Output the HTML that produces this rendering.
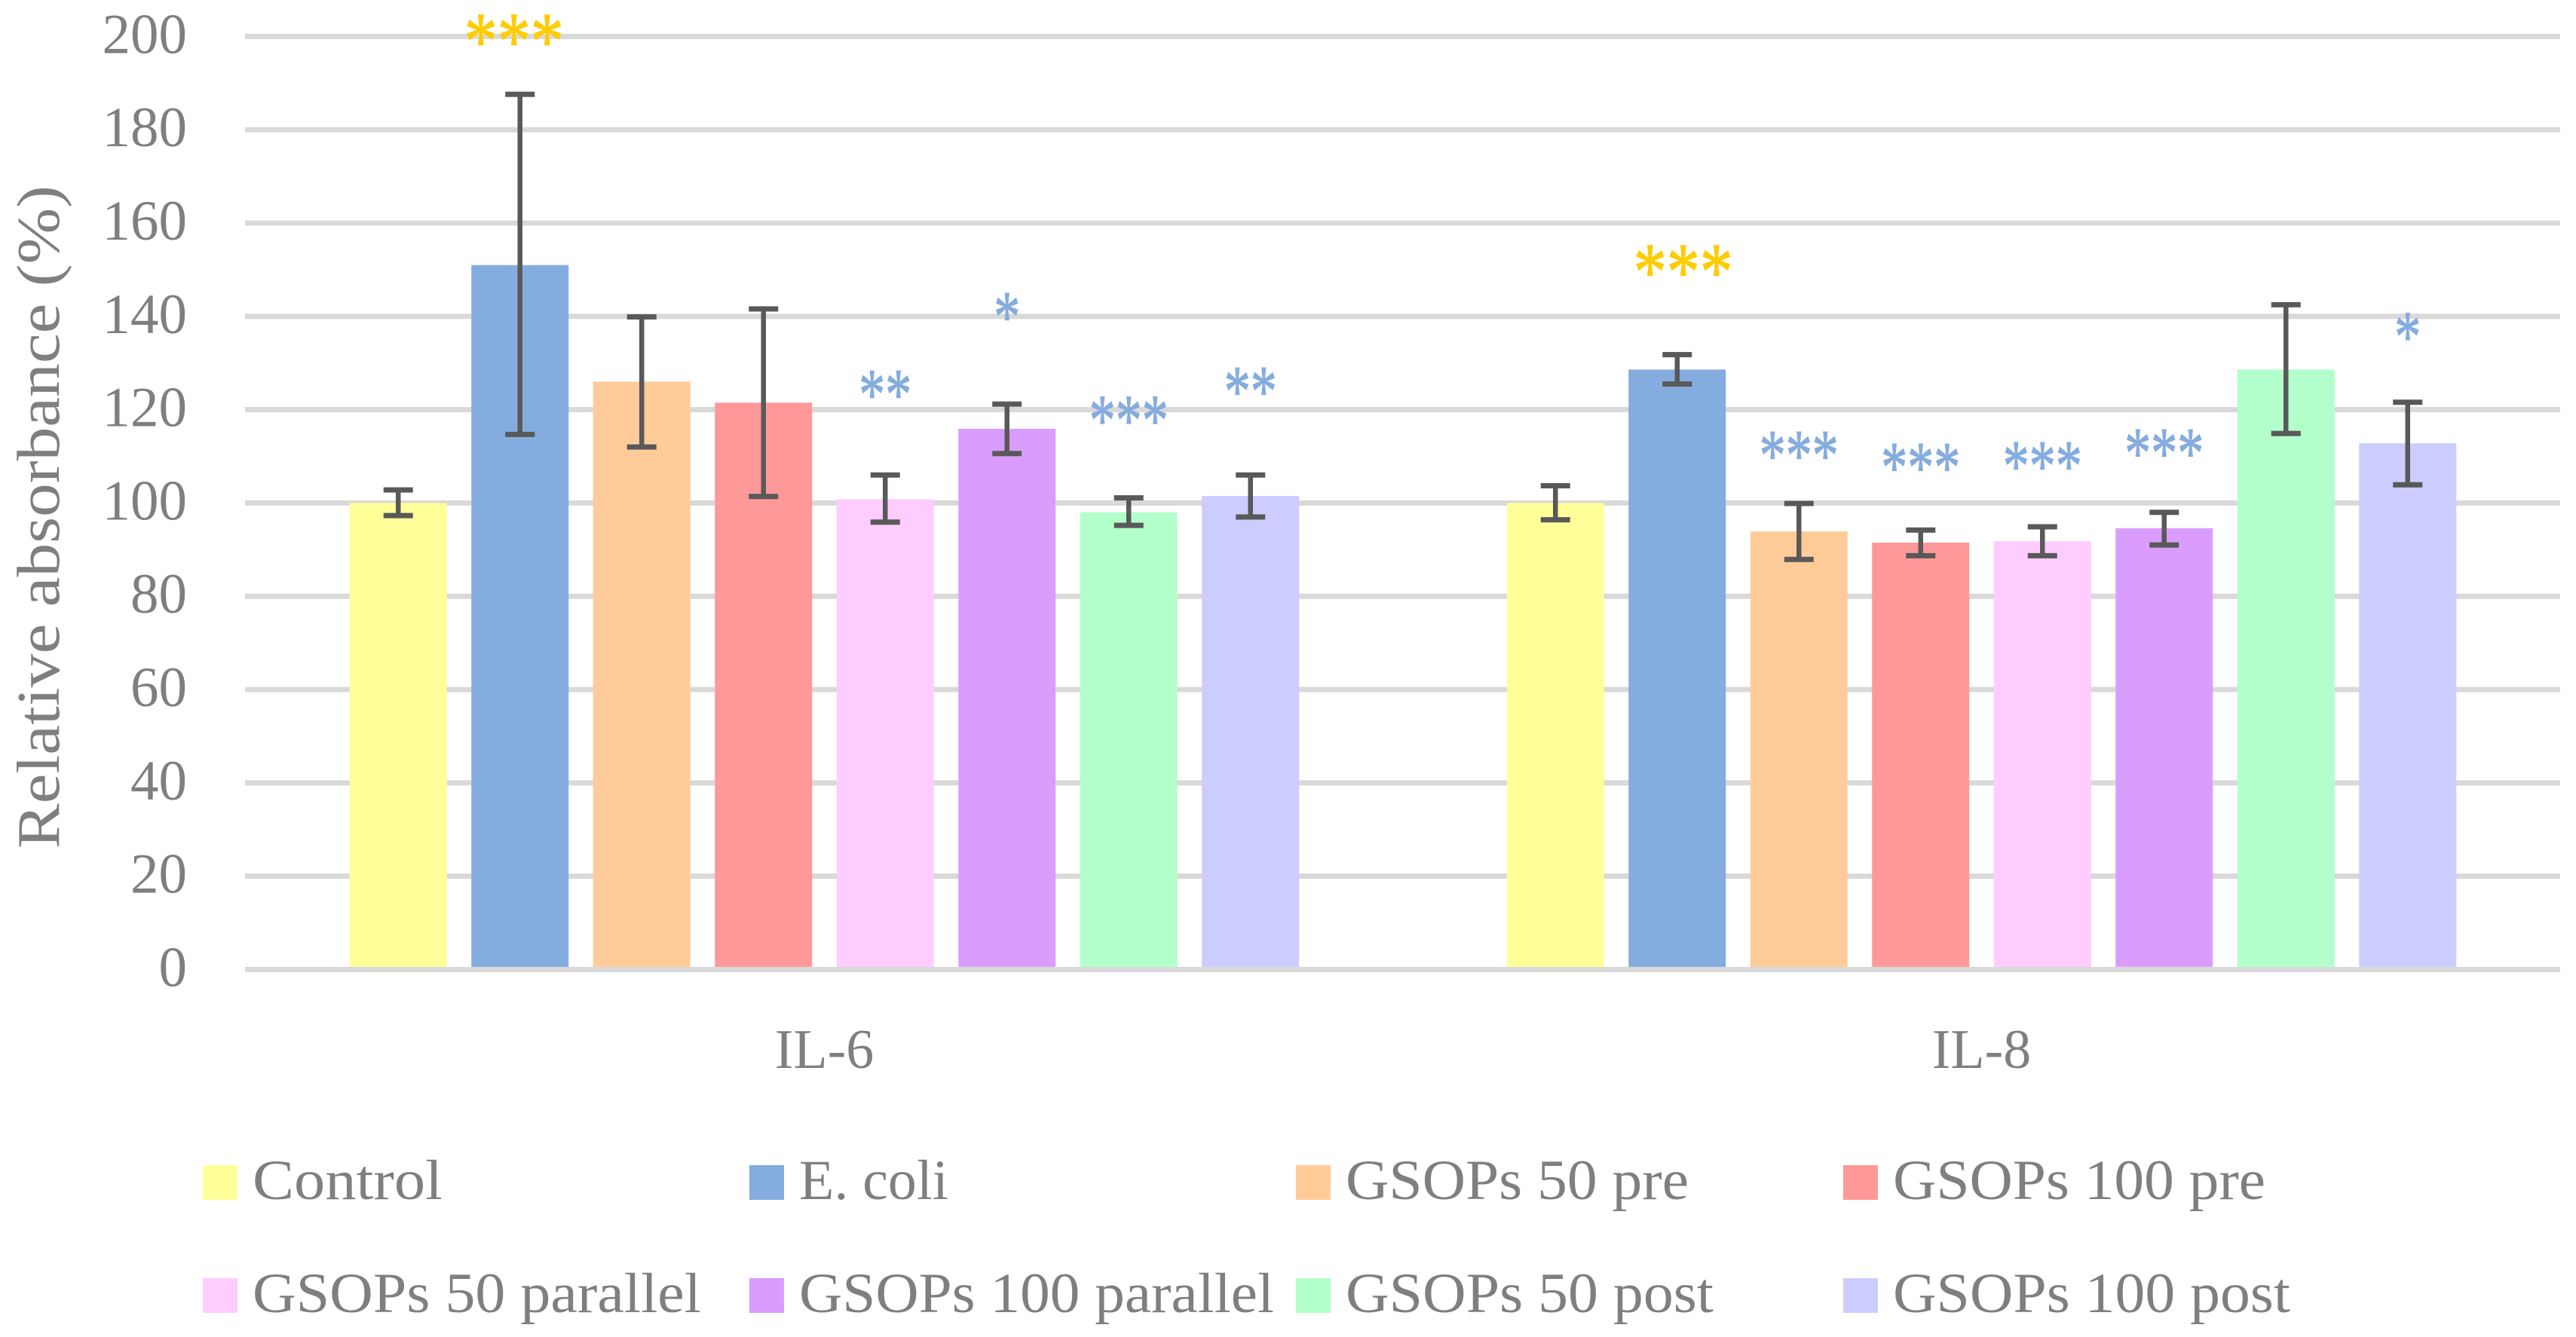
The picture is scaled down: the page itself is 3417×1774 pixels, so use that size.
<!DOCTYPE html>
<html lang="en">
<head>
<meta charset="utf-8">
<title>Relative absorbance of IL-6 and IL-8</title>
<style>
html,body{margin:0;padding:0;background:#fff;width:3417px;height:1774px;overflow:hidden}
svg{display:block}
text{font-family:"Liberation Serif",serif;fill:#7f7f7f}
</style>
</head>
<body>
<svg id="chart" xmlns="http://www.w3.org/2000/svg" width="3417" height="1774" viewBox="0 0 3417 1774"></svg>
<script>
const categories = ["IL-6", "IL-8"];
const seriesNames = ["Control", "E. coli", "GSOPs 50 pre", "GSOPs 100 pre", "GSOPs 50 parallel", "GSOPs 100 parallel", "GSOPs 50 post", "GSOPs 100 post"];
const seriesColors = ["#FFFF99", "#85ACDE", "#FFCC99", "#FF9999", "#FFCCFF", "#DA9DFD", "#B3FFCC", "#CCCCFF"];
const il6Values = [100, 151, 126, 121.5, 100.8, 115.9, 98, 101.5];
const il8Values = [100, 128.6, 93.9, 91.5, 91.8, 94.6, 128.6, 112.8];
const il6ErrHigh = [102.8, 187.6, 139.9, 141.6, 106, 121.2, 101.1, 106];
const il6ErrLow = [97.3, 114.7, 112, 101.4, 95.9, 110.6, 95.2, 97];
const il8ErrHigh = [103.7, 131.8, 99.9, 94.2, 94.9, 98, 142.5, 121.6];
const il8ErrLow = [96.4, 125.5, 87.9, 88.7, 88.7, 91, 114.9, 103.9];
const il6Stars = ["", "***", "", "", "**", "*", "***", "**"];
const il8Stars = ["", "***", "***", "***", "***", "***", "", "*"];
const il6StarLevels = [0, 201.4, 0, 0, 125.4, 142, 119.8, 126];
const il8StarLevels = [0, 152, 112.3, 109.7, 110, 112.8, 0, 137.7];
const tickValues = [0, 20, 40, 60, 80, 100, 120, 140, 160, 180, 200];
const axisTitle = "Relative absorbance (%)";

const NS = "http://www.w3.org/2000/svg";
const svg = document.getElementById("chart");
const plotLeft = 326, plotRight = 3396, zeroY = 1286.4, pxPerUnit = 6.19;
const barW = 129, barStep = 161.5;
const groupW = (plotRight - plotLeft) / categories.length;
const yellowShift = [-8, 8];

function yScale(v) { return zeroY - v * pxPerUnit; }
function xScale(c, s) { return plotLeft + groupW * (c + 0.5) + (s - (seriesNames.length - 1) / 2) * barStep; }
function slug(s) { return s.toLowerCase().replace(/[^a-z0-9]+/g, "-"); }
function make(tag, attrs, txt) {
  const el = document.createElementNS(NS, tag);
  for (const k in attrs) el.setAttribute(k, attrs[k]);
  if (txt !== undefined) el.textContent = txt;
  svg.appendChild(el);
  return el;
}

/* gridlines and y ticks */
tickValues.forEach(function (t) {
  const line = make("rect", { x: plotLeft - 1, y: yScale(t) - 3.5, width: plotRight - plotLeft + 1, height: 7, fill: "#D9D9D9" });
  
  
  const label = make("text", { x: 248, y: yScale(t) + 22, "text-anchor": "end", "font-size": 75 }, String(t));
  
  
});

/* bars, error bars, significance stars */
const groupValues = [il6Values, il8Values];
const groupHigh = [il6ErrHigh, il8ErrHigh];
const groupLow = [il6ErrLow, il8ErrLow];
const groupStars = [il6Stars, il8Stars];
const groupLevels = [il6StarLevels, il8StarLevels];

categories.forEach(function (cat, c) {
  const cs = slug(cat);
  seriesNames.forEach(function (name, s) {
    const cx = xScale(c, s);
    const top = yScale(groupValues[c][s]);
    const bar = make("rect", { x: cx - barW / 2, y: top, width: barW, height: zeroY - 3.5 - top, fill: seriesColors[s] });
    
    
  });
});

categories.forEach(function (cat, c) {
  const cs = slug(cat);
  seriesNames.forEach(function (name, s) {
    const cx = xScale(c, s);
    const hi = yScale(groupHigh[c][s]);
    const lo = yScale(groupLow[c][s]);
    const stem = make("rect", { x: cx - 3.25, y: hi, width: 6.5, height: lo - hi, fill: "#595959" });
    
    
    const capTop = make("rect", { x: cx - 19.5, y: hi - 3.5, width: 39, height: 7, fill: "#595959" });
    
    
    const capBottom = make("rect", { x: cx - 19.5, y: lo - 3.5, width: 39, height: 7, fill: "#595959" });
    
    

    const stars = groupStars[c][s];
    if (stars) {
      const yellow = s === 1;
      const fs = yellow ? 108 : 96;
      const pitch = yellow ? 44 : 35;
      const sx = yellow ? cx + yellowShift[c] : cx;
      const star = make("text", { x: sx, y: yScale(groupLevels[c][s]) + fs * 0.47, "text-anchor": "middle", "font-size": fs, textLength: pitch * stars.length, lengthAdjust: "spacingAndGlyphs" });
      star.textContent = stars;
      star.style.fill = yellow ? "#FFCC00" : "#85ACDE";
      star.style.stroke = yellow ? "#FFCC00" : "#85ACDE";
      star.style.strokeWidth = "1.2px";
      
      
    }
  });
  const catLabel = make("text", { x: plotLeft + groupW * (c + 0.5), y: 1417, "text-anchor": "middle", "font-size": 74 }, cat);
  
  
});

/* y-axis title */
const yTitle = make("text", { transform: "translate(78 686) rotate(-90)", "text-anchor": "middle", "font-size": 80, textLength: 880, lengthAdjust: "spacingAndGlyphs" }, axisTitle);



/* legend */
const legendColumns = [269, 994, 1719, 2445];
const legendRows = [1591, 1741];
const legendWidths = [252, 198, 455, 494, 595, 630, 488, 527];
seriesNames.forEach(function (name, s) {
  const col = legendColumns[s % 4];
  const base = legendRows[Math.floor(s / 4)];
  const sw = make("rect", { x: col, y: base - 45, width: 46, height: 46, fill: seriesColors[s] });
  
  
  const lab = make("text", { x: col + 66, y: base, "font-size": 75, textLength: legendWidths[s], lengthAdjust: "spacingAndGlyphs" }, name);
  
  
});
</script>
</body>
</html>
